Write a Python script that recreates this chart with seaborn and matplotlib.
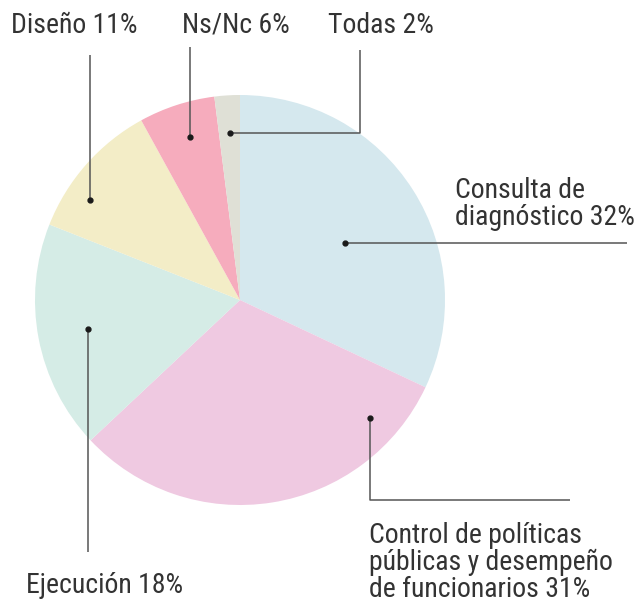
import numpy as np
import matplotlib.pyplot as plt
import seaborn as sns

# Data

labels = ["Consulta de\ndiagnóstico 32%",
          "Control de políticas\npúblicas y desempeño\nde funcionarios 31%",
          "Ejecución 18%", "Diseño 11%", "Ns/Nc 6%", "Todas 2%"]
values = [32, 31, 18, 11, 6, 2]
colors = ["#d5e8ee", "#efc9e1", "#d5ece6", "#f3edc7", "#f6acbd", "#dfe0d6"]

# Theme

sns.set_theme(style="white")
plt.rcParams["font.family"] = ["Roboto Condensed", "DejaVu Sans"]
plt.rcParams["font.stretch"] = "condensed"

W, H = 634, 602
fig = plt.figure(figsize=(W / 100, H / 100), dpi=100)
ax = fig.add_axes([0, 0, 1, 1])

cx, cy, r = 240, 300, 205

# pie drawn on a y-down axis, so counterclock=True gives clockwise on screen
wedges, _ = ax.pie(values, colors=colors, startangle=-90, counterclock=True,
                   center=(cx, cy), radius=r, frame=True,
                   wedgeprops=dict(linewidth=0))
ax.set_xlim(0, W)
ax.set_ylim(H, 0)
ax.set_aspect("equal")
ax.axis("off")

# dot placement inside each wedge: (fraction along wedge angle, fraction of radius)
dot_pos = [(0.534, 0.583), (0.152, 0.857), (0.5, 0.755),
           (0.306, 0.88), (0.546, 0.83), (0.53, 0.815)]

dots = []
for w, (t, f) in zip(wedges, dot_pos):
    ang = np.radians(w.theta1 + t * (w.theta2 - w.theta1))
    dots.append((cx + f * r * np.cos(ang), cy + f * r * np.sin(ang)))

line_kw = dict(color="#555555", lw=1.1, solid_capstyle="butt")
text_kw = dict(color="#333333", fontsize=20, va="baseline", linespacing=1.0)

# Consulta
x, y = dots[0]
ax.plot([x, 627], [y, y], **line_kw)
ax.text(455, 225, labels[0], **text_kw)

# Control
x, y = dots[1]
ax.plot([x, x, 570], [y, 500, 500], **line_kw)
ax.text(369, 597, labels[1], **text_kw)

# Ejecucion
x, y = dots[2]
ax.plot([x, x], [y, 552], **line_kw)
ax.text(26, 593, labels[2], **text_kw)

# Diseno
x, y = dots[3]
ax.plot([x, x], [y, 55], **line_kw)
ax.text(11, 33, labels[3], **text_kw)

# Ns/Nc
x, y = dots[4]
ax.plot([x, x], [y, 47], **line_kw)
ax.text(182, 33, labels[4], **text_kw)

# Todas
x, y = dots[5]
ax.plot([x, 360, 360], [y, y, 50], **line_kw)
ax.text(328, 33, labels[5], **text_kw)

for x, y in dots:
    ax.plot(x, y, "o", color="#1a1a1a", markersize=3.5)

fig.savefig("out.png", dpi=100)
